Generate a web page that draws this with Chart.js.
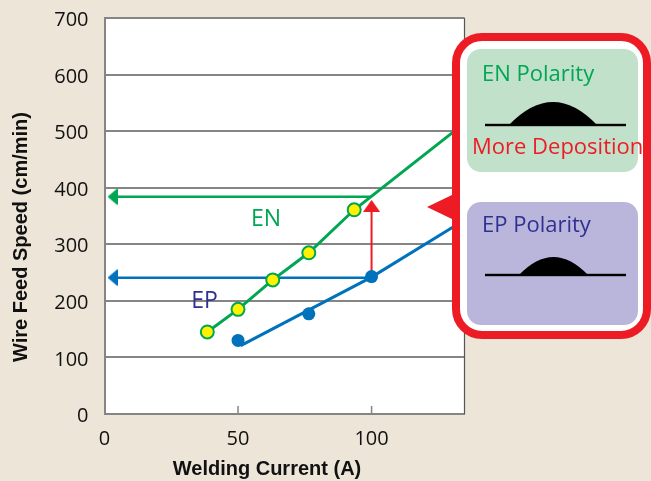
<!DOCTYPE html>
<html>
<head>
<meta charset="utf-8">
<script src="https://cdn.jsdelivr.net/npm/chart.js@4/dist/chart.umd.js"></script>
<style>
html, body { margin: 0; padding: 0; background: #ede5d8; overflow: hidden; }
canvas { display: block; }
</style>
</head>
<body>
<canvas id="chart" width="651" height="481"></canvas>
<script>
const enCurrent = [38.5, 50, 63, 76.5, 93.5]
const enSpeed = [145, 185, 237, 285, 361]
const enLineCurrent = [38.5, 50, 63, 76.5, 93.5, 131]
const enLineSpeed = [145, 185, 237, 285, 361, 500]
const epCurrent = [50, 76.5, 100]
const epSpeed = [130, 177, 243]
const epLineCurrent = [51, 100, 131]
const epLineSpeed = [121, 242, 332]
const enArrowCurrent = [100, 3]
const enArrowSpeed = [384, 384]
const epArrowCurrent = [100, 3]
const epArrowSpeed = [241, 241]
const gainCurrent = [100, 100]
const gainSpeed = [243, 368]
const xTicks = [0, 50, 100]
const yTicks = [0, 100, 200, 300, 400, 500, 600, 700]

const GREEN = '#00a651'
const BLUE = '#0072bc'
const RED = '#ed1c24'
const NAVY = '#2e3192'
const GRID = '#858585'
const FONT = '"Open Sans", sans-serif'
const TITLE_FONT = 'bold 20px "Liberation Sans", sans-serif'

function pts(xs, ys) {
    return xs.map((x, i) => ({ x: x, y: ys[i] }))
}

// arrow head pointing up, rotated per dataset
function head(color, w, h) {
    const c = document.createElement('canvas')
    c.width = w
    c.height = h
    const g = c.getContext('2d')
    g.fillStyle = color
    g.beginPath()
    g.moveTo(w / 2, 0)
    g.lineTo(w, h)
    g.lineTo(0, h)
    g.closePath()
    g.fill()
    return c
}

function lineSet(data, color, width) {
    return { data: data, borderColor: color, borderWidth: width, pointRadius: 0, showLine: true, fill: false }
}

function arrowSet(data, color, width, rotation, w, h) {
    return {
        data: data,
        borderColor: color,
        borderWidth: width,
        showLine: true,
        pointStyle: head(color, w, h),
        pointRadius: [0, 6],
        rotation: rotation
    }
}

function rounded(ctx, x, y, w, h, r) {
    ctx.beginPath()
    ctx.roundRect(x, y, w, h, r)
}

function bead(ctx, x0, x1, baseY, domeL, domeR, top) {
    ctx.fillStyle = '#000'
    ctx.fillRect(x0, baseY - 1.2, x1 - x0, 2.4)
    const mid = (domeL + domeR) / 2
    const ctrl = baseY - (baseY - top) * 2
    ctx.beginPath()
    ctx.moveTo(domeL, baseY)
    ctx.quadraticCurveTo(mid, ctrl, domeR, baseY)
    ctx.closePath()
    ctx.fill()
}

// white plot area on the beige page
const plotBack = {
    id: 'plotBack',
    beforeDraw(chart) {
        const a = chart.chartArea
        chart.ctx.fillStyle = '#fff'
        chart.ctx.fillRect(a.left, a.top, a.right - a.left, a.bottom - a.top)
    }
}

const overlay = {
    id: 'overlay',
    afterDatasetsDraw(chart) {
        const ctx = chart.ctx
        const xs = chart.scales.x
        const area = chart.chartArea
        ctx.save()

        // inner x ticks and right frame line
        ctx.strokeStyle = GRID
        ctx.lineWidth = 1.5
        xTicks.slice(1).forEach(v => {
            const px = xs.getPixelForValue(v)
            ctx.beginPath()
            ctx.moveTo(px, area.bottom - 8)
            ctx.lineTo(px, area.bottom)
            ctx.stroke()
        })
        ctx.strokeStyle = '#555'
        ctx.lineWidth = 1.2
        ctx.beginPath()
        ctx.moveTo(area.right, area.top)
        ctx.lineTo(area.right, area.bottom)
        ctx.stroke()

        // labels inside the plot
        ctx.textAlign = 'center'
        ctx.textBaseline = 'middle'
        ctx.font = '23px ' + FONT
        ctx.fillStyle = GREEN
        ctx.fillText('EN', xs.getPixelForValue(60.5), chart.scales.y.getPixelForValue(344))
        ctx.fillStyle = NAVY
        ctx.fillText('EP', xs.getPixelForValue(37.5), chart.scales.y.getPixelForValue(199))

        // axis titles sit off the plot centre in the reference
        ctx.font = TITLE_FONT
        ctx.fillStyle = '#111'
        ctx.fillText('Welding Current (A)', 267, 469)
        ctx.save()
        ctx.translate(21, 237)
        ctx.rotate(-Math.PI / 2)
        ctx.fillText('Wire Feed Speed (cm/min)', 0, 0)
        ctx.restore()

        // callout
        ctx.fillStyle = RED
        ctx.beginPath()
        ctx.moveTo(427, 207)
        ctx.lineTo(454, 194)
        ctx.lineTo(454, 220)
        ctx.closePath()
        ctx.fill()
        rounded(ctx, 456, 37, 191, 298, 26)
        ctx.fillStyle = '#fff'
        ctx.fill()
        ctx.strokeStyle = RED
        ctx.lineWidth = 8
        ctx.stroke()

        rounded(ctx, 467, 49, 171, 123, 14)
        ctx.fillStyle = '#c1e1cb'
        ctx.fill()
        rounded(ctx, 467, 202, 171, 123, 14)
        ctx.fillStyle = '#bab6db'
        ctx.fill()

        bead(ctx, 485, 626, 125, 509, 597, 102)
        bead(ctx, 485, 626, 275, 519, 588, 257)

        ctx.textAlign = 'left'
        ctx.textBaseline = 'alphabetic'
        ctx.font = '22px ' + FONT
        ctx.fillStyle = GREEN
        ctx.fillText('EN Polarity', 482, 81)
        ctx.fillStyle = NAVY
        ctx.fillText('EP Polarity', 482, 232)
        ctx.fillStyle = RED
        ctx.fillText('More Deposition', 472, 154)
        ctx.restore()
    }
}

new Chart(document.getElementById('chart'), {
    type: 'scatter',
    plugins: [plotBack, overlay],
    data: {
        datasets: [
            {
                data: pts(enCurrent, enSpeed),
                backgroundColor: '#fff200',
                borderColor: GREEN,
                borderWidth: 2,
                pointRadius: 6.5
            },
            {
                data: pts(epCurrent, epSpeed),
                backgroundColor: BLUE,
                borderColor: BLUE,
                borderWidth: 0,
                pointRadius: 6.5
            },
            arrowSet(pts(gainCurrent, gainSpeed), RED, 2, 0, 17, 12),
            lineSet(pts(enLineCurrent, enLineSpeed), GREEN, 3),
            lineSet(pts(epLineCurrent, epLineSpeed), BLUE, 3),
            arrowSet(pts(enArrowCurrent, enArrowSpeed), GREEN, 2.5, -90, 17, 10),
            arrowSet(pts(epArrowCurrent, epArrowSpeed), BLUE, 2.5, -90, 17, 10)
        ]
    },
    options: {
        responsive: false,
        animation: false,
        layout: { padding: { top: 18, right: 186.5, left: 0, bottom: 0 } },
        plugins: { legend: { display: false }, tooltip: { enabled: false } },
        scales: {
            x: {
                type: 'linear',
                min: 0,
                max: 134.8,
                afterFit(scale) {
                    scale.height = 67
                    scale.paddingRight = 0
                },
                afterBuildTicks(scale) { scale.ticks = xTicks.map(v => ({ value: v })) },
                border: { color: GRID, width: 2 },
                grid: { display: false },
                ticks: { color: '#111', font: { family: FONT, size: 20 }, padding: 5, maxRotation: 0 }
            },
            y: {
                min: 0,
                max: 700,
                afterFit(scale) {
                    scale.width = 104.5
                    scale.paddingTop = 0
                },
                afterBuildTicks(scale) { scale.ticks = yTicks.map(v => ({ value: v })) },
                border: { color: GRID, width: 2 },
                grid: { color: GRID, lineWidth: 2, drawTicks: false },
                ticks: { color: '#111', font: { family: FONT, size: 20 }, padding: 16, labelOffset: 2.5 }
            }
        }
    }
})
</script>
</body>
</html>
